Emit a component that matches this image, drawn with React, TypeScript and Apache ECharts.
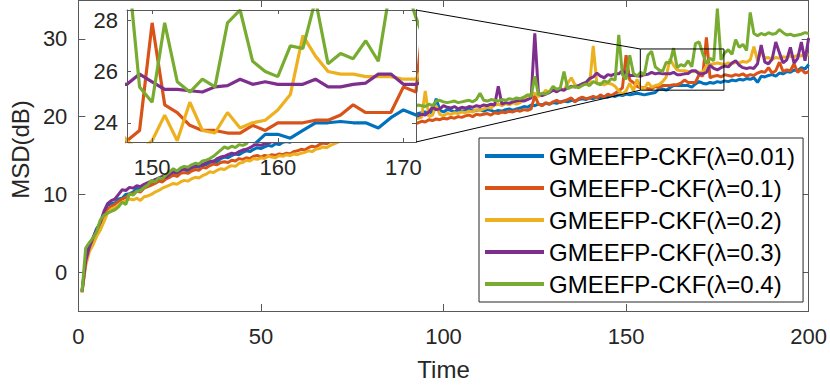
import React, { useEffect, useRef } from "react";
import * as echarts from "echarts";

// ---------- data ----------
const NAMES = [
  "GMEEFP-CKF(λ=0.01)",
  "GMEEFP-CKF(λ=0.1)",
  "GMEEFP-CKF(λ=0.2)",
  "GMEEFP-CKF(λ=0.3)",
  "GMEEFP-CKF(λ=0.4)",
];
const COLORS = ["#0072BD", "#D95319", "#EDB120", "#7E2F8E", "#77AC30"];

const msdL001 = [
  -2.4, 1.6, 3.4, 4.3, 5.6, 6.2, 7.4, 8.6, 8.8, 8.9,
  9.4, 9.5, 10.0, 10.1, 10.3, 10.8, 10.6, 11.1, 11.2, 11.6,
  11.8, 12.1, 11.9, 12.4, 12.6, 12.8, 12.7, 13.1, 13.2, 13.0,
  13.4, 13.6, 13.5, 13.9, 13.8, 14.1, 14.3, 14.2, 14.6, 14.8,
  14.7, 15.0, 15.2, 15.1, 15.4, 15.6, 15.5, 15.8, 16.0, 15.9,
  16.1, 16.3, 16.2, 16.5, 16.4, 16.7, 16.8, 16.7, 17.0, 17.1,
  17.2, 17.4, 17.3, 17.6, 17.7, 17.6, 17.9, 18.0, 18.1, 18.0,
  18.3, 18.4, 18.3, 18.6, 18.7, 18.6, 18.9, 19.0, 19.1, 19.0,
  19.2, 19.3, 19.5, 19.4, 19.6, 19.7, 19.6, 19.9, 20.0, 19.9,
  20.1, 20.2, 20.4, 20.5, 20.6, 20.4, 20.7, 22.3, 20.8, 20.6,
  20.9, 20.8, 20.6, 20.9, 20.7, 20.8, 21.0, 20.7, 20.8, 20.9,
  20.7, 20.9, 20.8, 20.6, 20.8, 20.7, 20.9, 21.0, 20.8, 21.0,
  21.1, 21.3, 21.2, 21.5, 21.4, 21.6, 21.5, 21.7, 21.6, 21.8,
  21.7, 21.9, 22.0, 21.9, 22.1, 22.0, 22.2, 22.3, 22.2, 22.4,
  22.3, 22.5, 22.4, 22.6, 22.5, 22.7, 22.6, 22.8, 22.7, 22.9,
  22.8, 22.9, 23.0, 22.9, 22.8, 22.9, 23.0, 23.1, 23.55, 23.55,
  23.4, 23.7, 24.0, 24.0, 24.05, 24.0, 24.0, 23.8, 24.2, 24.5,
  24.3, 24.2, 24.4, 24.3, 24.5, 24.4, 24.6, 24.5, 24.7, 24.6,
  24.8, 24.7, 24.9, 24.8, 25.0, 24.4, 25.2, 25.1, 25.3, 25.4,
  25.2, 25.6, 25.5, 25.8, 25.7, 26.0, 25.9, 26.3, 26.1, 26.7,
];
const msdL01 = [
  -2.6, 1.2, 3.0, 4.1, 5.3, 6.0, 7.1, 8.0, 8.5, 8.7,
  9.1, 9.4, 9.6, 10.0, 10.1, 10.4, 10.3, 10.8, 11.0, 11.2,
  11.4, 11.7, 11.6, 12.0, 12.2, 12.5, 12.3, 12.7, 12.8, 12.7,
  13.0, 13.2, 13.1, 13.5, 13.4, 13.7, 13.9, 13.8, 14.1, 14.2,
  14.1, 14.4, 14.3, 14.6, 14.5, 14.7, 14.6, 14.9, 15.0, 14.8,
  15.0, 14.9, 15.1, 15.0, 15.2, 15.1, 15.3, 15.2, 15.5, 15.6,
  15.8, 15.7, 16.0, 16.2, 16.1, 16.4, 16.6, 16.5, 16.8, 17.0,
  17.2, 17.3, 17.5, 17.6, 17.8, 17.7, 18.0, 18.1, 18.0, 18.3,
  18.4, 18.3, 18.6, 18.5, 18.7, 18.8, 18.7, 18.9, 19.0, 18.9,
  19.1, 19.0, 19.2, 19.4, 19.3, 19.6, 19.5, 19.7, 19.6, 19.8,
  19.7, 19.9, 19.8, 20.0, 19.9, 20.1, 20.2, 20.0, 20.3, 20.2,
  20.3, 20.4, 20.2, 20.5, 20.4, 20.6, 20.5, 20.7, 20.6, 20.8,
  20.7, 20.9, 20.8, 21.0, 22.7, 21.6, 21.4, 21.8, 21.6, 21.9,
  22.1, 21.8, 22.0, 22.2, 22.4, 21.9, 22.3, 22.5, 22.3, 22.4,
  22.6, 22.4, 22.8, 22.5, 22.9, 22.7, 23.0, 23.3, 23.7, 27.9,
  24.7, 24.4, 23.9, 23.7, 23.7, 23.6, 23.6, 23.9, 23.7, 24.0,
  24.0, 24.0, 24.1, 24.1, 24.3, 24.7, 24.4, 24.4, 24.4, 25.4,
  25.2, 30.2, 25.0, 25.2, 25.3, 25.1, 25.4, 25.3, 25.2, 25.4,
  25.3, 25.5, 25.2, 25.4, 25.3, 25.6, 25.8, 25.7, 26.3, 25.6,
  25.9, 27.0, 25.8, 26.0, 25.9, 26.8, 25.7, 26.1, 25.6, 25.8,
];
const msdL02 = [
  -2.6, 0.8, 2.6, 3.5, 4.6, 5.4, 6.5, 7.6, 8.1, 8.3,
  8.6, 9.0, 9.2, 9.4, 9.3, 9.5, 9.2, 9.7, 9.8, 10.0,
  10.3, 10.5, 10.8, 11.0, 11.2, 11.4, 11.3, 11.6, 11.8, 11.7,
  12.0, 12.2, 12.1, 12.4, 12.6, 12.9, 12.8, 13.1, 13.3, 13.2,
  13.5, 13.7, 13.6, 14.0, 14.1, 14.4, 14.3, 14.6, 14.5, 14.7,
  14.6, 14.9, 14.8, 14.7, 15.0, 14.9, 15.1, 15.0, 15.2, 15.1,
  15.3, 15.4, 15.6, 15.5, 15.8, 15.9, 16.1, 16.0, 16.3, 16.5,
  16.7, 16.9, 17.1, 17.3, 17.2, 17.6, 17.8, 17.7, 18.0, 18.2,
  18.3, 18.5, 18.4, 18.7, 18.8, 19.0, 18.9, 19.2, 19.3, 19.4,
  19.5, 19.7, 19.8, 19.9, 23.3, 20.0, 20.2, 21.4, 20.3, 20.1,
  20.4, 20.3, 20.5, 20.4, 20.6, 20.5, 20.7, 20.6, 20.9, 20.8,
  21.0, 21.2, 21.1, 21.5, 21.6, 21.4, 21.7, 21.5, 21.8, 21.6,
  21.8, 22.2, 22.7, 22.9, 23.0, 22.6, 22.8, 23.4, 23.1, 23.5,
  23.3, 23.6, 23.4, 24.3, 25.0, 24.1, 23.9, 24.2, 24.4, 24.0,
  29.1, 24.2, 24.3, 24.1, 24.3, 24.2, 23.9, 23.3, 22.9, 23.3,
  24.3, 23.3, 24.8, 23.7, 23.6, 24.4, 23.8, 24.0, 24.1, 24.5,
  25.1, 27.4, 26.6, 26.0, 25.9, 25.9, 25.8, 25.8, 25.8, 25.7,
  25.7, 26.5, 26.7, 26.8, 26.9, 26.8, 26.7, 26.9, 26.8, 27.0,
  26.9, 27.1, 27.0, 27.3, 29.0, 27.2, 28.4, 27.5, 27.6, 27.4,
  27.6, 27.5, 27.7, 27.6, 27.8, 27.7, 27.9, 27.8, 28.0, 27.9,
];
const msdL03 = [
  -2.5, 1.4, 3.2, 4.4, 5.5, 6.4, 7.8, 8.8, 9.2, 9.4,
  10.0, 10.6, 10.5, 10.9, 10.8, 11.1, 11.0, 11.3, 11.5, 11.7,
  11.9, 12.1, 12.3, 12.2, 12.6, 12.9, 12.8, 13.1, 13.3, 13.2,
  13.5, 13.6, 13.8, 13.7, 14.1, 14.3, 14.2, 14.6, 14.8, 14.9,
  15.1, 15.3, 15.2, 15.5, 15.7, 15.8, 16.0, 16.3, 16.4, 16.3,
  16.5, 16.6, 16.8, 16.7, 17.0, 17.1, 17.0, 17.3, 17.4, 17.5,
  17.6, 17.8, 17.7, 18.0, 18.1, 18.0, 18.3, 18.4, 18.5, 18.4,
  18.6, 18.7, 18.9, 18.8, 19.0, 19.1, 19.0, 19.2, 19.3, 19.4,
  19.5, 19.4, 19.6, 19.7, 19.6, 19.8, 19.9, 20.0, 19.9, 20.1,
  20.0, 20.2, 20.1, 20.3, 20.2, 20.6, 21.2, 20.9, 21.0, 21.4,
  21.2, 21.1, 21.3, 21.0, 21.2, 21.1, 21.3, 21.2, 21.4, 21.3,
  21.5, 21.4, 21.6, 21.5, 23.9, 21.6, 21.8, 21.7, 21.9, 22.0,
  22.1, 22.0, 22.2, 22.4, 30.7, 23.0, 22.7, 22.9, 23.1, 23.4,
  23.2, 23.5, 23.4, 23.7, 23.9, 23.8, 24.0, 24.2, 24.4, 24.9,
  25.1, 25.6, 25.2, 25.0, 25.4, 25.3, 25.5, 25.5, 25.9, 25.6,
  25.3, 25.3, 25.25, 25.2, 25.4, 25.45, 25.7, 25.5, 25.6, 25.5,
  25.5, 25.5, 25.7, 25.4, 25.4, 25.5, 25.55, 25.9, 25.9, 25.5,
  25.5, 25.7, 26.6, 26.2, 26.0, 26.3, 26.5, 26.4, 26.9, 27.2,
  26.6, 26.3, 26.2, 26.3, 26.2, 26.8, 29.2, 27.0, 26.8, 27.4,
  29.6, 28.2, 26.9, 27.3, 28.9, 26.9, 27.5, 29.6, 27.2, 30.1,
];
const msdL04 = [
  -2.5, 3.1, 3.8, 4.4, 5.2, 6.7, 7.3, 7.6, 7.8, 8.0,
  8.4, 9.0, 8.7, 10.1, 9.9, 10.4, 10.5, 10.9, 11.2, 11.8,
  11.6, 12.1, 12.0, 12.5, 12.9, 13.3, 13.0, 13.4, 13.6, 13.5,
  13.8, 14.0, 13.9, 14.3, 14.4, 14.6, 14.9, 15.3, 15.7, 16.1,
  15.9, 16.2, 16.0, 16.4, 16.3, 16.5, 17.2, 17.9, 17.5, 17.8,
  18.0, 17.9, 18.2, 18.1, 18.4, 18.3, 18.6, 18.5, 18.8, 18.9,
  19.0, 18.9, 19.2, 19.1, 19.4, 19.3, 19.5, 19.6, 19.5, 19.8,
  19.9, 19.8, 20.0, 20.1, 20.0, 20.2, 20.3, 20.2, 20.4, 20.5,
  20.6, 20.5, 20.7, 20.8, 20.7, 20.9, 21.0, 20.9, 21.1, 21.2,
  21.3, 21.2, 21.5, 21.4, 21.3, 21.6, 21.4, 22.0, 22.1, 21.9,
  21.8, 21.9, 22.0, 21.8, 21.9, 22.0, 22.1, 21.9, 22.2, 23.0,
  22.1, 22.0, 22.2, 22.1, 22.0, 22.2, 22.1, 22.3, 22.2, 22.4,
  22.3, 22.5, 22.8, 22.6, 25.2, 22.8, 23.0, 22.9, 23.2, 23.9,
  23.5, 23.7, 25.8, 23.6, 23.8, 23.9, 23.7, 24.0, 24.2, 24.0,
  24.5, 24.3, 24.1, 24.6, 24.4, 24.9, 24.7, 30.5, 25.4, 24.8,
  27.9, 25.6, 25.2, 25.7, 25.4, 27.9, 28.4, 26.4, 26.0, 25.8,
  27.0, 26.9, 28.8, 26.3, 26.7, 26.5, 27.2, 26.4, 29.4, 29.6,
  28.1, 26.8, 27.5, 27.2, 33.9, 27.3, 28.2, 28.6, 28.0, 29.9,
  28.9, 29.3, 28.5, 33.4, 30.7, 30.4, 30.7, 30.5, 30.8, 30.6,
  30.7, 31.2, 30.8, 30.5, 30.6, 30.4, 30.5, 30.6, 30.8, 30.7,
];
const SERIES_VALUES = [msdL001, msdL01, msdL02, msdL03, msdL04];

const X_RANGE = [0, 200];
const X_INTERVAL = 50;
const Y_RANGE = [-5, 35];
const Y_TICKS = [0, 10, 20, 30];
const INSET_X_RANGE = [148, 171];
const INSET_Y_RANGE = [23.25, 28.4];
const INSET_X_TICKS = [150, 160, 170];
const INSET_Y_TICKS = [24, 26, 28];
// zoom rectangle drawn on the main axes (data units)
const ZOOM_BOX_X = [153.9, 176.8];
const ZOOM_BOX_Y = [23.4, 28.7];

const FONT = "'Liberation Sans', Arial, Helvetica, sans-serif";
const TEXT = "#262626";
const AXIS = "#595959";

export default function App() {
  const ref = useRef<HTMLDivElement>(null);
  useEffect(() => {
    if (!ref.current) return;
    const chart = echarts.init(ref.current, undefined, { renderer: "svg" });

    const pairs = (vals: number[]) => vals.map((v, i) => [i + 1, v]);
    const insetPairs = (vals: number[]) =>
      vals
        .map((v, i) => [i + 1, v])
        .filter((p) => p[0] >= INSET_X_RANGE[0] - 1 && p[0] <= INSET_X_RANGE[1] + 1);

    const tickCommon = (len: number) => ({
      show: true,
      inside: true,
      length: len,
      lineStyle: { color: AXIS, width: 1 },
    });
    const lineCommon = { show: true, onZero: false, lineStyle: { color: AXIS, width: 1 } };
    const labelCommon = { color: TEXT, fontSize: 22, fontFamily: FONT };
    const nameStyle = { color: TEXT, fontSize: 24, fontFamily: FONT };

    const option: any = {
      animation: false,
      backgroundColor: "#fff",
      textStyle: { fontFamily: FONT },
      grid: [
        { left: 74, right: 19, top: 0, bottom: 74, containLabel: false },
        {
          left: 127, top: 10, width: 289, height: 132,
          show: true, backgroundColor: "#fff", borderWidth: 0, z: 10,
        },
      ],
      xAxis: [
        {
          gridIndex: 0, type: "value", position: "bottom",
          min: X_RANGE[0], max: X_RANGE[1], interval: X_INTERVAL,
          axisLine: lineCommon, axisTick: tickCommon(7),
          axisLabel: { ...labelCommon, margin: 14 },
          splitLine: { show: false },
          name: "Time", nameLocation: "middle", nameGap: 46,
          nameTextStyle: nameStyle,
        },
        {
          gridIndex: 0, type: "value", position: "top",
          min: X_RANGE[0], max: X_RANGE[1], interval: X_INTERVAL,
          axisLine: lineCommon, axisTick: tickCommon(7),
          axisLabel: { show: false }, splitLine: { show: false },
        },
        {
          gridIndex: 1, type: "value", position: "bottom", z: 12,
          min: INSET_X_RANGE[0], max: INSET_X_RANGE[1],
          axisLine: lineCommon,
          axisTick: { ...tickCommon(4), customValues: INSET_X_TICKS },
          axisLabel: { ...labelCommon, margin: 14, customValues: INSET_X_TICKS },
          splitLine: { show: false },
        },
        {
          gridIndex: 1, type: "value", position: "top", z: 12,
          min: INSET_X_RANGE[0], max: INSET_X_RANGE[1],
          axisLine: lineCommon,
          axisTick: { ...tickCommon(4), customValues: INSET_X_TICKS },
          axisLabel: { show: false }, splitLine: { show: false },
        },
      ],
      yAxis: [
        {
          gridIndex: 0, type: "value", position: "left",
          min: Y_RANGE[0], max: Y_RANGE[1],
          axisLine: lineCommon,
          axisTick: { ...tickCommon(7), customValues: Y_TICKS },
          axisLabel: { ...labelCommon, margin: 11, customValues: Y_TICKS },
          splitLine: { show: false },
          name: "MSD(dB)", nameLocation: "middle", nameGap: 43,
          nameTextStyle: { ...nameStyle, padding: [0, 0, 0, 12] },
        },
        {
          gridIndex: 0, type: "value", position: "right",
          min: Y_RANGE[0], max: Y_RANGE[1],
          axisLine: lineCommon,
          axisTick: { ...tickCommon(7), customValues: Y_TICKS },
          axisLabel: { show: false }, splitLine: { show: false },
        },
        {
          gridIndex: 1, type: "value", position: "left", z: 12,
          min: INSET_Y_RANGE[0], max: INSET_Y_RANGE[1],
          axisLine: lineCommon,
          axisTick: { ...tickCommon(4), customValues: INSET_Y_TICKS },
          axisLabel: { ...labelCommon, margin: 9, customValues: INSET_Y_TICKS },
          splitLine: { show: false },
        },
        {
          gridIndex: 1, type: "value", position: "right", z: 12,
          min: INSET_Y_RANGE[0], max: INSET_Y_RANGE[1],
          axisLine: lineCommon,
          axisTick: { ...tickCommon(4), customValues: INSET_Y_TICKS },
          axisLabel: { show: false }, splitLine: { show: false },
        },
      ],
      legend: {
        data: NAMES,
        orient: "vertical",
        left: 479,
        top: 138,
        padding: [6, 8, 6, 6],
        itemGap: 8,
        itemWidth: 59,
        itemHeight: 4,
        icon: "rect",
        selectedMode: false,
        backgroundColor: "#fff",
        borderColor: "#262626",
        borderWidth: 1,
        borderRadius: 0,
        z: 20,
        textStyle: { color: "#000", fontSize: 24, fontFamily: FONT, lineHeight: 24 },
      },
      series: [
        ...SERIES_VALUES.map((vals, k) => ({
          type: "line",
          name: NAMES[k],
          xAxisIndex: 0,
          yAxisIndex: 0,
          data: pairs(vals),
          showSymbol: false,
          symbol: "none",
          z: 2,
          lineStyle: { color: COLORS[k], width: 3 },
          itemStyle: { color: COLORS[k] },
        })),
        ...SERIES_VALUES.map((vals, k) => ({
          type: "line",
          name: NAMES[k],
          xAxisIndex: 2,
          yAxisIndex: 2,
          data: insetPairs(vals),
          showSymbol: false,
          symbol: "none",
          clip: true,
          z: 11,
          lineStyle: { color: COLORS[k], width: 3.2 },
          itemStyle: { color: COLORS[k] },
        })),
      ],
    };
    chart.setOption(option);

    const m0 = chart.convertToPixel({ gridIndex: 0 }, [ZOOM_BOX_X[0], ZOOM_BOX_Y[1]]) as number[];
    const m1 = chart.convertToPixel({ gridIndex: 0 }, [ZOOM_BOX_X[1], ZOOM_BOX_Y[0]]) as number[];
    const iTop = chart.convertToPixel({ gridIndex: 1 }, [INSET_X_RANGE[1], INSET_Y_RANGE[1]]) as number[];
    const iBot = chart.convertToPixel({ gridIndex: 1 }, [INSET_X_RANGE[1], INSET_Y_RANGE[0]]) as number[];
    const st = { stroke: "#000", lineWidth: 1, fill: "none" };
    chart.setOption({
      graphic: [
        {
          type: "rect", z: 30, silent: true,
          shape: { x: m0[0], y: m0[1], width: m1[0] - m0[0], height: m1[1] - m0[1] },
          style: st,
        },
        {
          type: "line", z: 30, silent: true,
          shape: { x1: iTop[0], y1: iTop[1], x2: m0[0], y2: m0[1] },
          style: st,
        },
        {
          type: "line", z: 30, silent: true,
          shape: { x1: iBot[0], y1: iBot[1], x2: m0[0], y2: m1[1] },
          style: st,
        },
      ],
    });

    return () => chart.dispose();
  }, []);
  return (
    <div
      ref={ref}
      style={{ position: "fixed", left: 0, top: 0, width: 830, height: 386, background: "#fff" }}
    />
  );
}
